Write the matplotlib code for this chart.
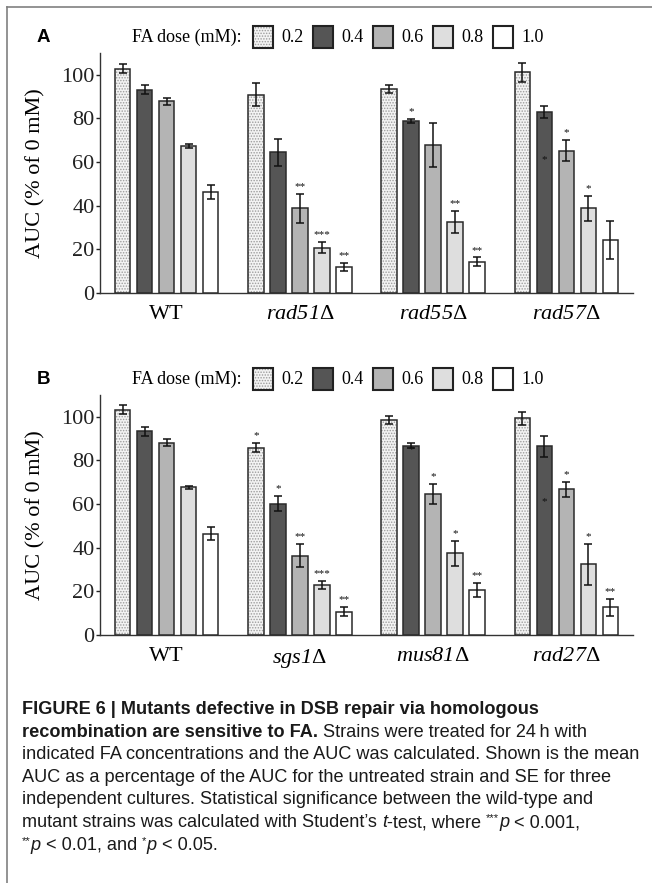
import numpy as np
import matplotlib
matplotlib.use("Agg")
import matplotlib.pyplot as plt
from matplotlib.patches import Rectangle
from matplotlib.lines import Line2D

# ---------------- data ----------------
doses = ["0.2", "0.4", "0.6", "0.8", "1.0"]

strains_a = ["WT", "rad51", "rad55", "rad57"]
wt_a = [102.8, 93.1, 87.8, 67.4, 46.2]
wt_a_err = [2.0, 2.1, 1.8, 0.8, 3.1]
rad51 = [90.8, 64.5, 38.8, 20.8, 11.8]
rad51_err = [5.3, 6.3, 6.7, 2.5, 1.8]
rad55 = [93.6, 78.9, 67.9, 32.4, 14.4]
rad55_err = [1.9, 0.9, 10.2, 5.0, 1.9]
rad57 = [101.1, 82.9, 65.3, 38.8, 24.3]
rad57_err = [4.3, 2.7, 5.0, 5.7, 8.9]
sig_a = [["", "", "", "", ""],
         ["", "", "**", "***", "**"],
         ["", "*", "", "**", "**"],
         ["", "", "*", "*", ""]]
# stars drawn at a fixed height (inside / on the bar): (strain, dose, label, y)
sig_a_inside = [(3, 1, "*", 61)]

strains_b = ["WT", "sgs1", "mus81", "rad27"]
wt_b = [103.2, 93.4, 88.2, 67.7, 46.5]
wt_b_err = [2.0, 2.1, 1.8, 0.8, 3.1]
sgs1 = [85.9, 60.2, 36.4, 22.8, 10.7]
sgs1_err = [2.1, 3.4, 5.4, 1.9, 2.1]
mus81 = [98.6, 86.8, 64.7, 37.5, 20.6]
mus81_err = [2.0, 1.0, 4.6, 5.7, 3.1]
rad27 = [99.4, 86.4, 66.7, 32.4, 12.7]
rad27_err = [3.0, 4.6, 3.6, 9.3, 3.8]
sig_b = [["", "", "", "", ""],
         ["*", "*", "**", "***", "**"],
         ["", "", "*", "*", "**"],
         ["", "", "*", "*", "**"]]
sig_b_inside = [(2, 1, "*", 84.8), (3, 1, "*", 61)]

yticks = [0, 20, 40, 60, 80, 100]

# ---------------- style ----------------
W, H = 652, 883
fig = plt.figure(figsize=(W / 100, H / 100), dpi=100)
SERIF = ["Liberation Serif", "DejaVu Serif"]
SANS = ["Liberation Sans", "DejaVu Sans"]
plt.rcParams["hatch.linewidth"] = 0.7
plt.rcParams["mathtext.fontset"] = "custom"
plt.rcParams["mathtext.rm"] = "Liberation Serif"
plt.rcParams["mathtext.it"] = "Liberation Serif:italic"
plt.rcParams["mathtext.bf"] = "Liberation Serif:bold"

fills = ["#f3f3f3", "#555555", "#b4b4b4", "#dedede", "#ffffff"]
edge = "#2a2a2a"
bar_w = 0.117
pitch = 0.165


def px(x, y):
    return x / W, 1 - y / H


def panel(top_px, bottom_px, letter, strains, series, errs, sig, inside):
    left, right = 100, 633
    ax = fig.add_axes([left / W, 1 - bottom_px / H, (right - left) / W,
                       (bottom_px - top_px) / H])
    vals = np.array(series)
    ers = np.array(errs)
    x = np.arange(len(strains))
    for i in range(len(doses)):
        xs = x + (i - 2) * pitch
        if i == 0:
            ax.bar(xs, vals[:, i], bar_w, color=fills[i], edgecolor="#9c9c9c",
                   hatch="......", linewidth=0, zorder=2)
            ax.bar(xs, vals[:, i], bar_w, fill=False, edgecolor=edge,
                   linewidth=1.1, zorder=3)
        else:
            ax.bar(xs, vals[:, i], bar_w, color=fills[i], edgecolor=edge,
                   linewidth=1.1, zorder=3)
        ax.errorbar(xs, vals[:, i], yerr=ers[:, i], fmt="none", ecolor="#111111",
                    elinewidth=1.1, capsize=3.2, capthick=1.1, zorder=4)
        for g in range(len(strains)):
            s = sig[g][i]
            if s:
                ax.text(xs[g], vals[g, i] + ers[g, i] + 2.2, s, ha="center",
                        va="baseline", fontsize=8, family=SERIF, color="#111",
                        zorder=5)
    for g, i, s, yv in inside:
        ax.text(x[g] + (i - 2) * pitch, yv, s, ha="center", va="center",
                fontsize=8, family=SERIF, color="#111", zorder=5)
    ax.set_xlim(-0.5, 3.5)
    ax.set_ylim(0, 110)
    ax.set_yticks(yticks)
    ax.set_yticklabels([str(t) for t in yticks], family=SERIF, fontsize=16)
    ax.set_xticks(x)
    ax.set_xticklabels([""] * len(strains))
    for g, s in enumerate(strains):
        lab = s if s == "WT" else s + r"$\Delta$"
        ax.text(x[g], -12 / 2.18, lab, ha="center", va="top", family=SERIF,
                fontsize=16, fontstyle="normal" if s == "WT" else "italic",
                transform=ax.transData, clip_on=False)
    ax.tick_params(axis="x", length=0, pad=10)
    ax.tick_params(axis="y", length=3, width=1, pad=1, direction="out",
                   colors="#222")
    for sp in ["top", "right"]:
        ax.spines[sp].set_visible(False)
    for sp in ["left", "bottom"]:
        ax.spines[sp].set_color("#333")
        ax.spines[sp].set_linewidth(1.0)
    ax.set_ylabel("AUC (% of 0 mM)", family=SERIF, fontsize=16, labelpad=4)
    ax.yaxis.set_label_coords((45 - left) / (right - left), 0.5)
    ax.set_facecolor("none")

    # panel letter and legend
    ly = top_px - 16
    fig.text(*px(37, ly), letter, fontsize=13.5, fontweight="bold", family=SANS,
             va="center", ha="left")
    fig.text(*px(132, ly), "FA dose (mM):", fontsize=13, family=SERIF,
             va="center", ha="left")
    for i, d in enumerate(doses):
        x0 = 253 + 60 * i
        if i == 0:
            r = Rectangle(px(x0, ly + 11), 20 / W, 22 / H,
                          transform=fig.transFigure, facecolor=fills[i],
                          edgecolor="#9c9c9c", linewidth=0, hatch="......")
            fig.patches.append(r)
            r2 = Rectangle(px(x0, ly + 11), 20 / W, 22 / H,
                           transform=fig.transFigure, fill=False,
                           edgecolor="#222", linewidth=1.5)
            fig.patches.append(r2)
        else:
            r = Rectangle(px(x0, ly + 11), 20 / W, 22 / H,
                          transform=fig.transFigure, facecolor=fills[i],
                          edgecolor="#222", linewidth=1.5)
            fig.patches.append(r)
        fig.text(*px(x0 + 28, ly + 1), d, fontsize=13, family=SERIF,
                 va="center", ha="left")
    return ax


panel(53, 293, "A", strains_a, [wt_a, rad51, rad55, rad57],
      [wt_a_err, rad51_err, rad55_err, rad57_err], sig_a, sig_a_inside)
panel(395, 635, "B", strains_b, [wt_b, sgs1, mus81, rad27],
      [wt_b_err, sgs1_err, mus81_err, rad27_err], sig_b, sig_b_inside)

# frame
fig.add_artist(Line2D([7 / W, 1], [1 - 7 / H, 1 - 7 / H], transform=fig.transFigure,
                      color="#808080", linewidth=1.2))
fig.add_artist(Line2D([7 / W, 7 / W], [0, 1 - 7 / H], transform=fig.transFigure,
                      color="#808080", linewidth=1.2))

# caption
renderer = fig.canvas.get_renderer()
caption = [
    [("FIGURE 6 | Mutants defective in DSB repair via homologous", "b")],
    [("recombination are sensitive to FA.", "b"),
     (" Strains were treated for 24\u2009h with", "n")],
    [("indicated FA concentrations and the AUC was calculated. Shown is the mean", "n")],
    [("AUC as a percentage of the AUC for the untreated strain and SE for three", "n")],
    [("independent cultures. Statistical significance between the wild-type and", "n")],
    [("mutant strains was calculated with Student\u2019s ", "n"), ("t", "i"),
     ("-test, where ", "n"), ("***", "s"), ("p", "i"), (" < 0.001,", "n")],
    [("**", "s"), ("p", "i"), (" < 0.01, and ", "n"), ("*", "s"), ("p", "i"),
     (" < 0.05.", "n")],
]


def measure(s, size, weight="normal", style="normal"):
    t = fig.text(0, 0, "|" + s + "|", fontsize=size, family=SANS,
                 fontweight=weight, fontstyle=style)
    w1 = t.get_window_extent(renderer).width
    t.remove()
    t = fig.text(0, 0, "||", fontsize=size, family=SANS, fontweight=weight,
                 fontstyle=style)
    w2 = t.get_window_extent(renderer).width
    t.remove()
    return w1 - w2


ref_line = caption[2][0][0]
fs = 12.0 * 620 / measure(ref_line, 12.0)

x0, y0, dy = 22, 714, 22.6
for k, line in enumerate(caption):
    xcur = x0
    yb = y0 + dy * k
    for seg, st in line:
        kw = dict(fontsize=fs, family=SANS, color="#1a1a1a", va="baseline",
                  ha="left")
        yy = yb
        if st == "b":
            kw["fontweight"] = "bold"
        elif st == "i":
            kw["fontstyle"] = "italic"
        elif st == "s":
            kw["fontsize"] = fs * 0.62
            yy = yb - fs * 0.45
        fig.text(*px(xcur, yy), seg, **kw)
        xcur += measure(seg, kw["fontsize"], kw.get("fontweight", "normal"),
                        kw.get("fontstyle", "normal"))

fig.savefig("out.png", dpi=100, facecolor="white")
